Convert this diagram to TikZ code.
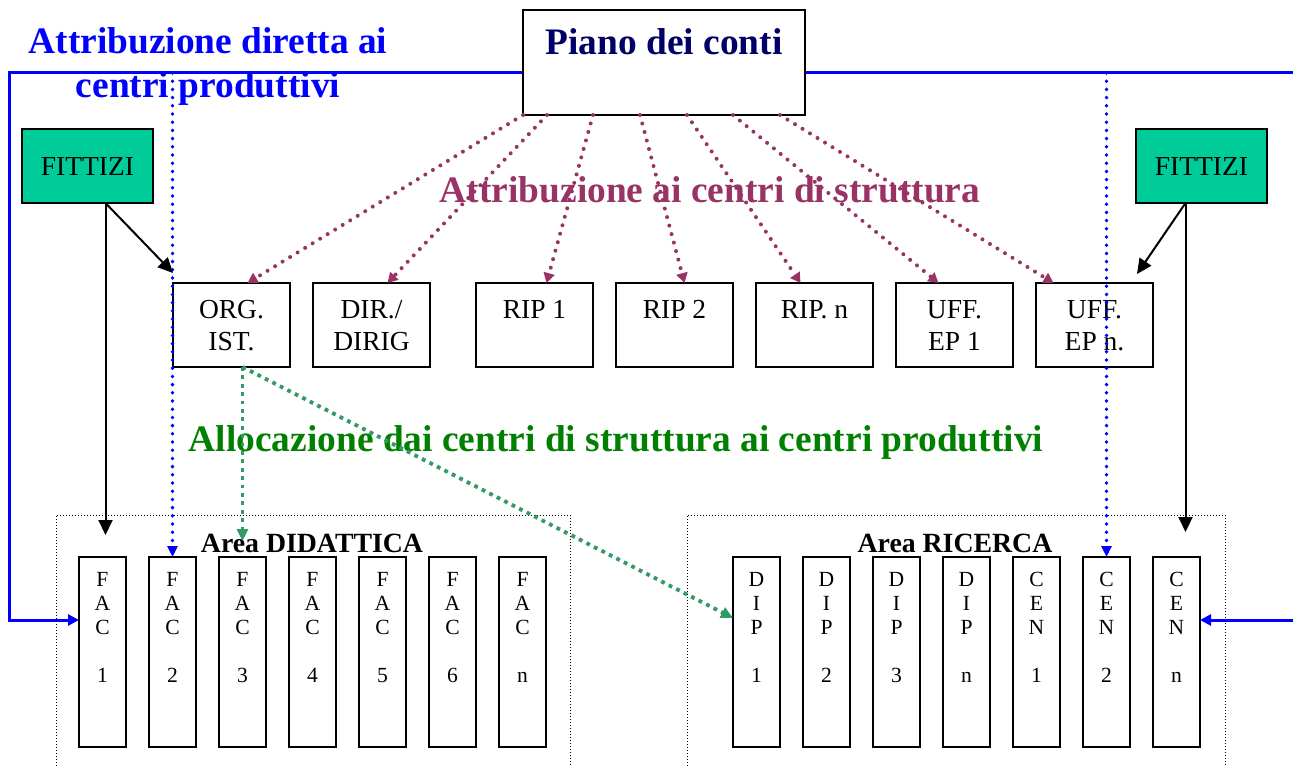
\documentclass[tikz,border=0pt]{standalone}
\usepackage{fontspec}
\setmainfont{Liberation Serif}
\usetikzlibrary{positioning, arrows.meta, calc, backgrounds}

\definecolor{conti}{RGB}{0,0,102}
\definecolor{diretta}{RGB}{0,0,255}
\definecolor{struttura}{RGB}{153,51,102}
\definecolor{alloca}{RGB}{51,153,102}
\definecolor{allocatxt}{RGB}{0,128,0}
\definecolor{fittizi}{RGB}{0,204,153}

\newcommand{\topcell}[4]{\parbox[c][#1][t]{#2}{\centering\vspace*{#3}\strut #4}}
\newcommand{\unitcell}[1]{\topcell{42pt}{58.5pt}{6.3pt}{#1}}
\newcommand{\colcell}[1]{\topcell{95pt}{23.5pt}{6.4pt}{#1}}

\tikzset{
  unit/.style={draw, line width=0.75pt, inner sep=0pt, outer sep=0pt, font=\fontsize{13.75}{16}\selectfont},
  col/.style={draw, line width=0.75pt, inner sep=0pt, outer sep=0pt, font=\fontsize{10.8}{12}\selectfont},
  fict/.style={draw, line width=0.75pt, fill=fittizi, minimum width=65.5pt, minimum height=37pt,
    inner sep=0pt, outer sep=0pt, anchor=north west, font=\fontsize{13.75}{16}\selectfont},
  area/.style={draw, line width=0.5pt, dash pattern=on 0.5pt off 1pt, minimum width=#1,
    minimum height=150pt, anchor=north west, inner sep=0pt, outer sep=0pt},
  areatitle/.style={anchor=base, inner sep=0pt, font=\fontsize{13.9}{16}\selectfont\bfseries},
  heading/.style={inner sep=0pt, font=\fontsize{18.7}{22}\selectfont\bfseries},
  feed/.style={line width=1pt, -{Triangle[length=7.5pt,width=7pt]}},
  direct/.style={diretta, line width=1.5pt, -{Triangle[length=5.5pt,width=5.5pt]}},
  directdot/.style={diretta, line width=1.9pt, line cap=round, dash pattern=on 0pt off 4.1pt,
    -{Triangle[length=5.5pt,width=5pt]}},
  assign/.style={struttura, line width=2pt, line cap=round, dash pattern=on 0pt off 4.4pt,
    -{Triangle[length=5pt,width=5.5pt]}},
  alloc/.style={alloca, line width=1.9pt, dash pattern=on 1.9pt off 2.3pt,
    -{Triangle[length=6pt,width=5.5pt]}},
}

\begin{document}
\begin{tikzpicture}[x=0.5pt, y=-0.5pt]
\useasboundingbox (0,0) rectangle (1293,765);

% titles
\node[heading, diretta, align=center, anchor=north] (tdiretta) at (208,27) {Attribuzione diretta ai\\centri produttivi};
\node[heading, struttura, anchor=base] (tstruttura) at (710,202) {Attribuzione ai centri di struttura};
\node[heading, allocatxt, anchor=base] (talloca) at (616,451) {Allocazione dai centri di struttura ai centri produttivi};

% piano dei conti
\node[unit, fill=white, anchor=north west, text=conti, font=\fontsize{18.7}{22}\selectfont\bfseries] (piano) at (523,10) {\topcell{52.5pt}{141pt}{7.1pt}{Piano dei conti}};

% centri fittizi
\node[fict] (fitl) at (22,129) {FITTIZI};
\node[fict] (fitr) at (1136,129) {FITTIZI};

% centri di struttura
\node[unit, anchor=north west] (org) at (173,283) {\unitcell{ORG.\\IST.}};
\node[unit, right=11.5pt of org] (dir) {\unitcell{DIR./\\DIRIG}};
\node[unit, right=23pt of dir] (rip1) {\unitcell{RIP 1}};
\node[unit, right=11.5pt of rip1] (rip2) {\unitcell{RIP 2}};
\node[unit, right=11.5pt of rip2] (ripn) {\unitcell{RIP. n}};
\node[unit, right=11.5pt of ripn] (uff1) {\unitcell{UFF.\\EP 1}};
\node[unit, right=11.5pt of uff1] (uffn) {\unitcell{UFF.\\EP n.}};

% aree
\node[area=257pt] (didattica) at (56,515) {};
\node[area=269pt] (ricerca) at (687,515) {};
\node[areatitle] (tdidattica) at (312,552) {Area DIDATTICA};
\node[areatitle] (tricerca) at (955,552) {Area RICERCA};

% centri produttivi - didattica
\node[col, anchor=north west] (fac1) at (79,557) {\colcell{F\\A\\C\\[12pt]1}};
\node[col, right=11.5pt of fac1] (fac2) {\colcell{F\\A\\C\\[12pt]2}};
\node[col, right=11.5pt of fac2] (fac3) {\colcell{F\\A\\C\\[12pt]3}};
\node[col, right=11.5pt of fac3] (fac4) {\colcell{F\\A\\C\\[12pt]4}};
\node[col, right=11.5pt of fac4] (fac5) {\colcell{F\\A\\C\\[12pt]5}};
\node[col, right=11.5pt of fac5] (fac6) {\colcell{F\\A\\C\\[12pt]6}};
\node[col, right=11.5pt of fac6] (facn) {\colcell{F\\A\\C\\[12pt]n}};

% centri produttivi - ricerca
\node[col, anchor=north west] (dip1) at (733,557) {\colcell{D\\I\\P\\[12pt]1}};
\node[col, right=11.5pt of dip1] (dip2) {\colcell{D\\I\\P\\[12pt]2}};
\node[col, right=11.5pt of dip2] (dip3) {\colcell{D\\I\\P\\[12pt]3}};
\node[col, right=11.5pt of dip3] (dipn) {\colcell{D\\I\\P\\[12pt]n}};
\node[col, right=11.5pt of dipn] (cen1) {\colcell{C\\E\\N\\[12pt]1}};
\node[col, right=11.5pt of cen1] (cen2) {\colcell{C\\E\\N\\[12pt]2}};
\node[col, right=11.5pt of cen2] (cenn) {\colcell{C\\E\\N\\[12pt]n}};

% attribuzione diretta
\coordinate (lt) at (9,73);
\coordinate (rt) at (1300,73);
\begin{scope}[on background layer]
\fill[white] (0,0) rectangle (1293,765);
\draw[direct] (rt) -- (lt) |- ([yshift=16pt]fac1.west);
\end{scope}
\draw[direct] (rt) |- ([yshift=16pt]cenn.east);
\draw[directdot] (fac2 |- lt) -- (fac2.north);
\draw[directdot] (cen2 |- lt) -- (cen2.north);

% fittizi
\coordinate (fl) at ([xshift=9pt]fitl.south);
\coordinate (fr) at ([xshift=-8pt]fitr.south);
\draw[feed] (fl) -- ([yshift=5pt]org.north west);
\draw[feed] (fl) -- ($(fl |- didattica.north)+(0,20)$);
\draw[feed] (fr) -- ([xshift=-8pt,yshift=4.5pt]uffn.north east);
\draw[feed] (fr) -- ($(fr |- ricerca.north)+(0,17)$);

% attribuzione ai centri di struttura
\draw[assign] (piano.south west) -- ([xshift=8pt]org.north);
\draw[assign] ([xshift=12pt]piano.south west) -- ([xshift=8pt]dir.north);
\draw[assign] ([xshift=35pt]piano.south west) -- ([xshift=6pt]rip1.north);
\draw[assign] ([xshift=58.5pt]piano.south west) -- ([xshift=5pt]rip2.north);
\draw[assign] ([xshift=82pt]piano.south west) -- ([xshift=-7pt]ripn.north);
\draw[assign] ([xshift=105pt]piano.south west) -- ([xshift=-8pt]uff1.north);
\draw[assign] ([xshift=128.5pt]piano.south west) -- ([xshift=-20.5pt]uffn.north);

% allocazione
\draw[alloc] (fac3 |- org.south) -- ([yshift=8pt]fac3.north);
\draw[alloc] (fac3 |- org.south) -- ([yshift=17pt]dip1.west);
\end{tikzpicture}
\end{document}
